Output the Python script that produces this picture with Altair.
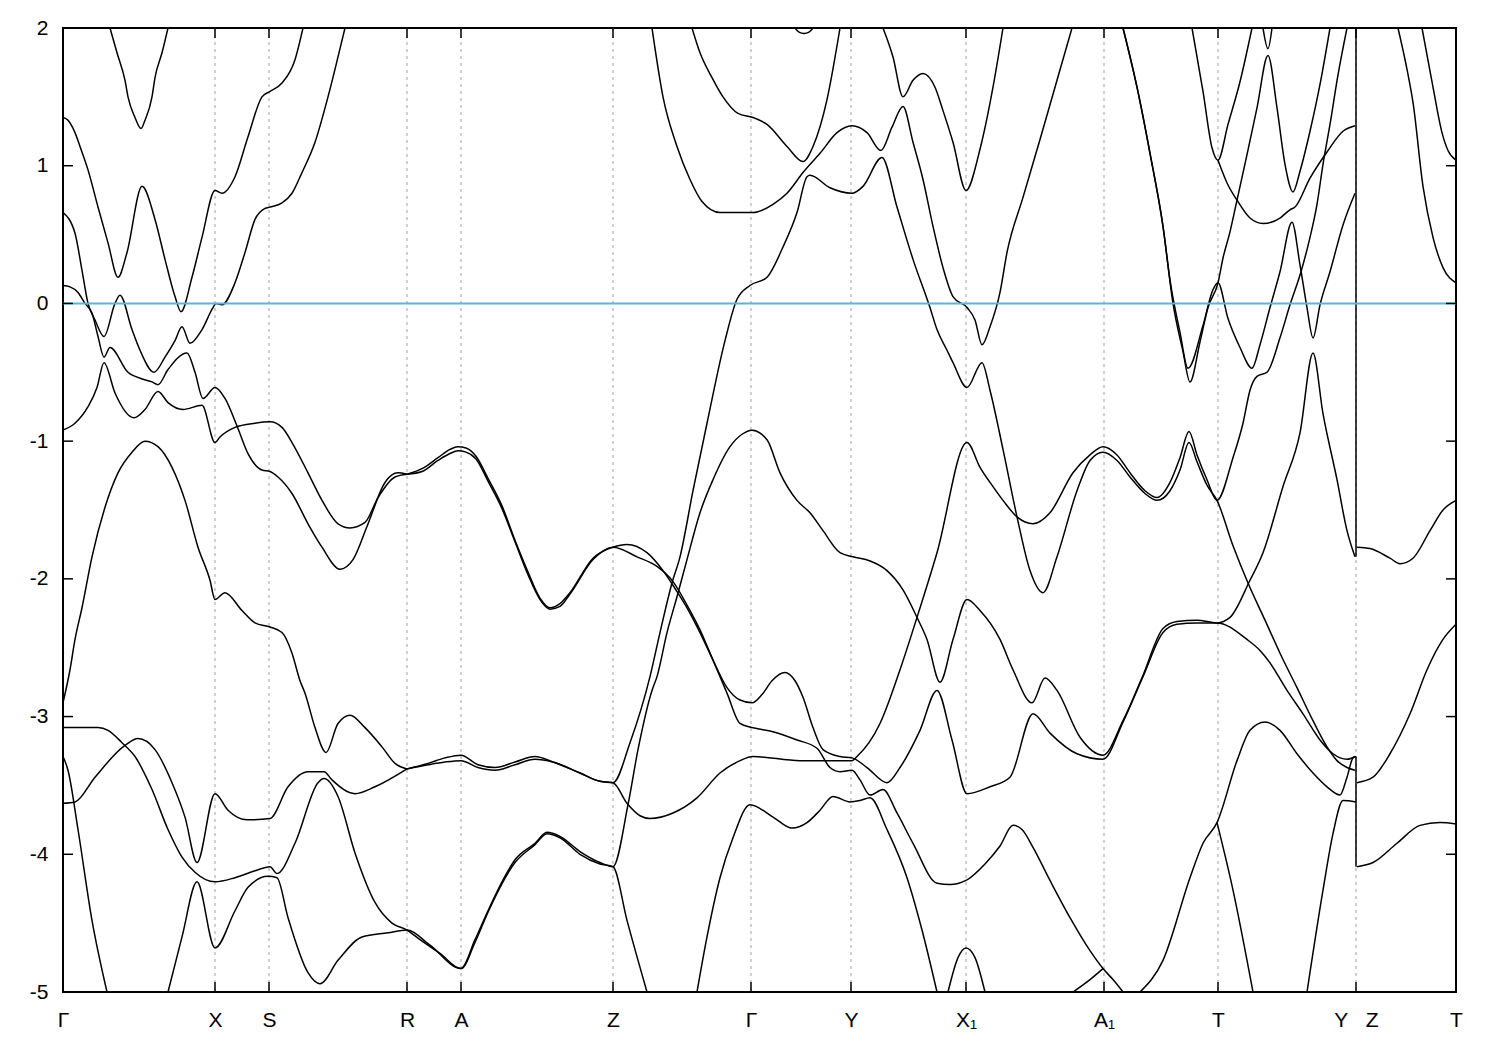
import altair as alt
import pandas as pd

# ---------------- high-symmetry path (k in path units) ----------------
tick_k = [0, 152, 206, 344, 398, 550, 688, 788, 903, 1041, 1155, 1293, 1393]
tick_labels = ["Γ", "X", "S", "R", "A", "Z", "Γ", "Y", "X₁", "A₁", "T", "Y\u00a0\u00a0\u00a0Z", "T"]
energy_ticks = [2, 1, 0, -1, -2, -3, -4, -5]
fermi_level = [0.0]

# ---------------- bands: [k, E(eV)] ----------------
c1 = [[47, 2.0], [54, 1.82], [62, 1.62], [65, 1.50], [72, 1.35], [78, 1.27], [82, 1.33], [89, 1.50], [92, 1.64], [99, 1.82], [105, 2.0]]
c2 = [[0, 1.35], [5, 1.33], [12, 1.24], [17, 1.14], [25, 0.97], [35, 0.70], [45, 0.44], [55, 0.19], [64, 0.37], [79, 0.85], [92, 0.61], [102, 0.32], [112, 0.05], [118, -0.06], [129, 0.19], [139, 0.48], [152, 0.82], [159, 0.80], [172, 0.92], [185, 1.21], [199, 1.50], [207, 1.54], [219, 1.60], [232, 1.77], [240, 2.0]]
c3 = [[0, 0.66], [12, 0.51], [19, 0.24], [25, 0.0], [32, -0.12], [41, -0.24], [52, 0.0], [57, 0.06], [69, -0.19], [77, -0.34], [91, -0.50], [102, -0.39], [112, -0.27], [119, -0.17], [127, -0.29], [139, -0.19], [150, -0.03], [153, 0.0], [159, -0.01], [172, 0.15], [182, 0.37], [192, 0.61], [202, 0.69], [207, 0.70], [219, 0.73], [229, 0.80], [239, 0.95], [252, 1.17], [265, 1.50], [275, 1.79], [282, 2.0]]
c4 = [[0, 0.13], [7, 0.12], [15, 0.08], [22, 0.0], [29, -0.07], [35, -0.24], [41, -0.39], [47, -0.32], [65, -0.50], [80, -0.55], [89, -0.57], [95, -0.59], [105, -0.48], [124, -0.36], [132, -0.50], [140, -0.69], [152, -0.61], [162, -0.69], [174, -0.89], [185, -1.09], [199, -1.21], [207, -1.22], [215, -1.26], [229, -1.38], [245, -1.60], [259, -1.77], [277, -1.93], [290, -1.86], [304, -1.62], [322, -1.30], [335, -1.23], [344, -1.24]]
c5 = [[0, -0.92], [12, -0.87], [25, -0.75], [34, -0.61], [41, -0.43], [52, -0.65], [71, -0.83], [82, -0.77], [95, -0.64], [105, -0.72], [120, -0.77], [139, -0.74], [152, -1.01], [157, -0.97], [172, -0.90], [192, -0.87], [207, -0.86], [219, -0.90], [229, -1.01], [245, -1.23], [259, -1.43], [275, -1.60], [287, -1.63], [302, -1.59], [315, -1.41], [332, -1.26], [344, -1.24]]
c6a = [[344, -1.24], [359, -1.20], [375, -1.12], [387, -1.06], [395, -1.04], [403, -1.05], [413, -1.11], [425, -1.27], [439, -1.47], [452, -1.72], [465, -1.95], [477, -2.14], [487, -2.21], [497, -2.18], [507, -2.10], [530, -1.85], [550, -1.77], [564, -1.75], [584, -1.81], [600, -1.94], [612, -2.07], [624, -2.21], [637, -2.39], [650, -2.59], [664, -2.79], [677, -2.88], [689, -2.90], [699, -2.84], [709, -2.74], [722, -2.68], [732, -2.74], [740, -2.86], [750, -3.08], [760, -3.24], [777, -3.29], [789, -3.30], [804, -3.37], [824, -3.48], [837, -3.37], [857, -3.10], [874, -2.81], [889, -3.17], [904, -3.56], [927, -3.51], [947, -3.44], [970, -2.98], [987, -3.12], [1014, -3.27], [1040, -3.31], [1060, -3.04], [1080, -2.71], [1100, -2.39], [1114, -2.33], [1134, -2.32], [1154, -2.32], [1184, -2.44], [1197, -2.52], [1207, -2.61], [1224, -2.81], [1240, -2.98], [1257, -3.17], [1270, -3.27], [1284, -3.31], [1292, -3.29]]
c6b = [[344, -1.24], [359, -1.22], [375, -1.14], [387, -1.09], [395, -1.07], [403, -1.08], [413, -1.13], [425, -1.29], [439, -1.49], [452, -1.73], [465, -1.97], [477, -2.15], [487, -2.22], [497, -2.20], [507, -2.11], [530, -1.86], [550, -1.77], [574, -1.84], [594, -1.91], [610, -2.02], [624, -2.19], [637, -2.37], [650, -2.59], [664, -2.83], [677, -3.05], [689, -3.08], [710, -3.11], [734, -3.17], [754, -3.23], [767, -3.37], [777, -3.40], [789, -3.39], [797, -3.46], [807, -3.57], [820, -3.53], [834, -3.70], [850, -3.92], [874, -4.21], [887, -4.22], [903, -4.19], [922, -4.07], [937, -3.94], [950, -3.79], [959, -3.82], [970, -3.95], [987, -4.19], [1007, -4.46], [1027, -4.70], [1040, -4.83], [1050, -4.91], [1060, -5.0]]
c7 = [[0, -2.90], [7, -2.66], [12, -2.44], [19, -2.21], [29, -1.84], [42, -1.48], [55, -1.23], [69, -1.08], [82, -1.00], [95, -1.04], [109, -1.19], [122, -1.43], [135, -1.77], [147, -2.01], [152, -2.15], [162, -2.10], [179, -2.23], [192, -2.32], [207, -2.35], [219, -2.39], [229, -2.54], [237, -2.74], [242, -2.83], [252, -3.08], [263, -3.26], [275, -3.05], [287, -2.99], [302, -3.08], [319, -3.22], [332, -3.34], [344, -3.38]]
c8a = [[344, -3.38], [365, -3.34], [382, -3.30], [398, -3.28], [415, -3.35], [432, -3.37], [452, -3.33], [472, -3.29], [490, -3.33], [517, -3.41], [537, -3.47], [550, -3.48], [567, -3.19], [587, -2.71], [597, -2.39], [609, -2.03], [617, -1.84], [630, -1.36], [644, -0.87], [662, -0.27], [674, 0.03], [687, 0.13], [704, 0.19], [720, 0.41], [734, 0.66], [744, 0.92], [747, 0.93], [767, 0.84], [789, 0.80], [800, 0.85], [819, 1.06], [834, 0.70], [850, 0.32], [867, -0.03], [874, -0.19], [884, -0.34], [890, -0.43], [904, -0.61], [919, -0.43], [927, -0.63], [940, -1.06], [954, -1.55], [967, -1.94], [980, -2.10], [994, -1.84], [1014, -1.36], [1027, -1.14], [1040, -1.08], [1054, -1.14], [1067, -1.26], [1082, -1.38], [1094, -1.43], [1107, -1.36], [1117, -1.21], [1126, -1.01], [1134, -1.15], [1144, -1.32], [1154, -1.43], [1170, -1.76], [1185, -2.03], [1202, -2.30], [1217, -2.54], [1234, -2.79], [1250, -3.03], [1264, -3.22], [1274, -3.32], [1284, -3.37], [1292, -3.39]]
c8b = [[344, -3.38], [365, -3.35], [382, -3.33], [398, -3.32], [415, -3.37], [432, -3.39], [452, -3.35], [472, -3.31], [490, -3.33], [517, -3.41], [537, -3.47], [550, -3.48], [564, -3.63], [577, -3.72], [587, -3.74], [610, -3.70], [634, -3.59], [657, -3.41], [677, -3.32], [690, -3.29], [737, -3.32], [789, -3.32], [794, -3.29], [817, -3.05], [837, -2.66], [854, -2.28], [874, -1.81], [904, -1.01], [917, -1.19], [930, -1.33], [940, -1.43], [954, -1.55], [970, -1.60], [987, -1.52], [1010, -1.23], [1027, -1.10], [1040, -1.04], [1054, -1.10], [1067, -1.23], [1082, -1.36], [1094, -1.41], [1107, -1.30], [1117, -1.12], [1126, -0.93], [1134, -1.10], [1144, -1.28], [1154, -1.43], [1170, -1.12], [1180, -0.87], [1187, -0.63], [1194, -0.53], [1204, -0.50], [1217, -0.25], [1227, -0.01], [1238, 0.23], [1247, 0.48], [1254, 0.72], [1260, 1.01], [1267, 1.30], [1275, 1.66], [1284, 2.0]]
d1 = [[0, -3.08], [35, -3.08], [45, -3.10], [59, -3.19], [72, -3.29], [89, -3.53], [105, -3.82], [119, -4.02], [132, -4.13], [152, -4.20], [172, -4.17], [192, -4.12], [207, -4.09], [214, -4.14], [232, -3.92], [255, -3.48], [261, -3.45], [275, -3.58], [292, -3.99], [312, -4.35], [329, -4.50], [344, -4.55], [357, -4.62], [377, -4.72], [398, -4.83], [412, -4.62], [425, -4.41], [439, -4.20], [452, -4.04], [472, -3.92], [484, -3.84], [497, -3.87], [517, -3.98], [537, -4.06], [550, -4.09], [565, -3.64], [575, -3.24], [589, -2.81], [594, -2.71], [604, -2.39], [614, -2.13], [624, -1.86], [637, -1.52], [650, -1.28], [667, -1.04], [679, -0.95], [689, -0.92], [704, -0.99], [717, -1.23], [734, -1.43], [747, -1.52], [760, -1.65], [777, -1.81], [790, -1.84], [807, -1.87], [824, -1.94], [840, -2.08], [854, -2.28], [864, -2.44], [877, -2.75], [890, -2.44], [904, -2.15], [917, -2.23], [937, -2.44], [950, -2.66], [969, -2.90], [982, -2.72], [994, -2.81], [1017, -3.15], [1040, -3.28], [1060, -3.03], [1080, -2.70], [1100, -2.36], [1114, -2.31], [1134, -2.30], [1154, -2.32], [1167, -2.28], [1187, -2.01], [1200, -1.81], [1220, -1.33], [1237, -0.94], [1250, -0.36], [1260, -0.80], [1274, -1.28], [1284, -1.65], [1292, -1.84]]
cx = [[0, -3.63], [12, -3.62], [32, -3.44], [62, -3.21], [75, -3.16], [92, -3.24], [109, -3.48], [122, -3.73], [134, -4.06], [152, -3.56], [165, -3.68], [184, -3.75], [207, -3.74], [225, -3.51], [245, -3.40], [261, -3.40], [269, -3.46], [292, -3.56], [312, -3.51], [344, -3.38]]
steep = [[0, -3.29], [5, -3.39], [15, -3.82], [29, -4.48], [44, -5.0]]
bottom_left = [[105, -5.0], [119, -4.60], [134, -4.20], [152, -4.68], [172, -4.41], [185, -4.24], [205, -4.16], [214, -4.17], [225, -4.46], [245, -4.86], [257, -4.94], [275, -4.77], [299, -4.60], [325, -4.57], [344, -4.55], [367, -4.66], [398, -4.83], [412, -4.64], [425, -4.42], [452, -4.06], [472, -3.93], [484, -3.85], [497, -3.88], [517, -4.00], [537, -4.07], [550, -4.09], [564, -4.48], [584, -5.0]]
gamma_bottom = [[634, -5.0], [644, -4.60], [657, -4.17], [670, -3.88], [687, -3.64], [710, -3.73], [729, -3.81], [744, -3.77], [757, -3.68], [770, -3.58], [787, -3.62], [797, -3.61], [807, -3.59], [824, -3.82], [844, -4.17], [859, -4.55], [874, -5.0]]
x1_dome = [[885, -5.0], [895, -4.75], [903, -4.68], [912, -4.75], [922, -5.0]]
a1_branch = [[1010, -5.0], [1027, -4.91], [1040, -4.83]]
t_bottom = [[1077, -5.0], [1100, -4.77], [1127, -4.17], [1140, -3.92], [1154, -3.77], [1174, -3.32], [1187, -3.10], [1202, -3.04], [1217, -3.10], [1234, -3.27], [1250, -3.41], [1264, -3.51], [1277, -3.57], [1284, -3.44], [1290, -3.30], [1293, -3.29]]
t_down = [[1154, -3.77], [1170, -4.26], [1190, -5.0]]
y_bottom = [[1244, -5.0], [1260, -4.26], [1270, -3.85], [1280, -3.61], [1293, -3.62]]
zt1 = [[1294, -1.77], [1307, -1.78], [1327, -1.85], [1337, -1.89], [1350, -1.85], [1367, -1.65], [1380, -1.50], [1393, -1.43]]
zt2 = [[1294, -3.48], [1310, -3.44], [1327, -3.27], [1347, -2.98], [1364, -2.66], [1380, -2.44], [1393, -2.33]]
zt3 = [[1294, -4.09], [1310, -4.06], [1334, -3.92], [1357, -3.79], [1377, -3.77], [1393, -3.78]]
zt4 = [[1335, 2.0], [1344, 1.70], [1350, 1.46], [1360, 0.85], [1370, 0.48], [1380, 0.26], [1393, 0.15]]
zt5 = [[1359, 2.0], [1370, 1.57], [1379, 1.24], [1385, 1.11], [1393, 1.04]]
e1 = [[589, 2.0], [600, 1.50], [614, 1.14], [627, 0.90], [639, 0.74], [657, 0.66], [690, 0.66], [710, 0.72], [724, 0.80], [740, 0.95], [757, 1.09], [774, 1.24], [789, 1.29], [804, 1.24], [818, 1.11], [829, 1.28], [840, 1.43], [850, 1.17], [860, 0.90], [870, 0.56], [880, 0.26], [890, 0.05], [904, -0.03], [912, -0.12], [919, -0.30], [927, -0.17], [937, 0.08], [944, 0.37], [960, 0.77], [977, 1.19], [994, 1.62], [1009, 2.0]]
e2 = [[629, 2.0], [637, 1.82], [649, 1.64], [660, 1.50], [675, 1.38], [690, 1.35], [704, 1.30], [724, 1.14], [740, 1.03], [750, 1.14], [764, 1.48], [777, 2.0]]
top_arc = [[732, 2.0], [736, 1.97], [741, 1.96], [746, 1.97], [750, 2.0]]
u1 = [[820, 2.0], [830, 1.79], [840, 1.50], [850, 1.62], [860, 1.67], [872, 1.57], [880, 1.40], [890, 1.17], [903, 0.82], [917, 1.12], [930, 1.57], [940, 2.0]]
t1 = [[1060, 2.0], [1074, 1.57], [1087, 1.09], [1100, 0.56], [1110, 0.0], [1120, -0.35], [1127, -0.57], [1137, -0.28], [1145, -0.03], [1155, 0.15], [1160, 0.33], [1167, 0.52], [1174, 0.75], [1184, 1.08], [1194, 1.42], [1205, 1.80], [1214, 1.42], [1222, 1.01], [1230, 0.81], [1237, 0.96], [1247, 1.25], [1257, 1.59], [1267, 2.0]]
t2 = [[1060, 2.0], [1074, 1.57], [1087, 1.09], [1100, 0.56], [1107, 0.17], [1117, -0.21], [1125, -0.47], [1140, -0.16], [1150, 0.10], [1155, 0.15], [1165, -0.11], [1177, -0.32], [1189, -0.47], [1197, -0.30], [1207, -0.03], [1217, 0.23], [1229, 0.59], [1237, 0.28], [1244, -0.03], [1250, -0.25], [1257, -0.01], [1267, 0.23], [1280, 0.57], [1292, 0.80]]
r5 = [[1129, 2.0], [1140, 1.54], [1149, 1.13], [1155, 1.04], [1165, 1.30], [1177, 1.61], [1189, 2.0]]
r1 = [[1155, 1.04], [1165, 0.86], [1174, 0.75], [1187, 0.62], [1200, 0.58], [1217, 0.62], [1227, 0.68], [1232, 0.70], [1247, 0.91], [1264, 1.10], [1280, 1.25], [1292, 1.29]]
small_v = [[1200, 2.0], [1205, 1.85], [1209, 2.0]]

# jumps drawn between the Y and Z end points
jump_k = [1293, 1293]
jump_top = [2.0, -3.29]
jump_bottom = [-1.84, -4.09]

bands = {
    "c1": c1, "c2": c2, "c3": c3, "c4": c4, "c5": c5, "c6a": c6a, "c6b": c6b,
    "c7": c7, "c8a": c8a, "c8b": c8b, "d1": d1, "cx": cx, "steep": steep,
    "bottom_left": bottom_left, "gamma_bottom": gamma_bottom, "x1_dome": x1_dome,
    "a1_branch": a1_branch, "t_bottom": t_bottom, "t_down": t_down, "y_bottom": y_bottom,
    "zt1": zt1, "zt2": zt2, "zt3": zt3, "zt4": zt4, "zt5": zt5, "e1": e1, "e2": e2,
    "top_arc": top_arc, "u1": u1, "t1": t1, "t2": t2, "r5": r5, "r1": r1, "small_v": small_v,
}

rows = []
for name, pts in bands.items():
    for i, (k, e) in enumerate(pts):
        rows.append({"band": name, "i": i, "k": k, "E": e})
bands_df = pd.DataFrame(rows)

K_MIN, K_MAX = tick_k[0], tick_k[-1]
E_MIN, E_MAX = min(energy_ticks), max(energy_ticks)
xscale = alt.Scale(domain=[K_MIN, K_MAX], nice=False, zero=False)
yscale = alt.Scale(domain=[E_MIN, E_MAX], nice=False, zero=False)

label_expr = "''"
for k, lab in reversed(list(zip(tick_k, tick_labels))):
    label_expr = f"datum.value == {k} ? '{lab}' : ({label_expr})"

FONT = "Liberation Sans"
x_axis = alt.Axis(values=tick_k, labelExpr=label_expr, ticks=False, tickSize=0, domain=False,
                  grid=False, title=None, labelFont=FONT, labelFontSize=21, labelPadding=17,
                  labelColor="black", labelFlush=False, labelOverlap=False, labelBound=False)
y_axis = alt.Axis(values=energy_ticks, labelExpr="'' + datum.value", ticks=False, tickSize=0,
                  domain=False, grid=False, title=None, labelFont=FONT, labelFontSize=21,
                  labelPadding=15, labelColor="black", labelFlush=False, labelOverlap=False)

def X(field="k"):
    return alt.X(f"{field}:Q", scale=xscale, axis=x_axis)

def Y(field="E"):
    return alt.Y(f"{field}:Q", scale=yscale, axis=y_axis)

# dotted vertical lines at inner high-symmetry points
grid_df = pd.DataFrame({"k": tick_k[1:-1]})
grid = alt.Chart(grid_df).mark_rule(color="#a0a0a0", strokeWidth=1, strokeDash=[3, 4]).encode(x=X())

# band lines
lines = alt.Chart(bands_df).mark_line(color="black", strokeWidth=1.5, interpolate="monotone", clip=True).encode(
    x=X(), y=Y(), detail="band:N", order="i:Q"
)

jumps_df = pd.DataFrame({"k": jump_k, "top": jump_top, "bottom": jump_bottom})
jumps = alt.Chart(jumps_df).mark_rule(color="black", strokeWidth=1.5).encode(
    x=X(), y=Y("top"), y2="bottom:Q"
)

fermi_df = pd.DataFrame({"E": fermi_level})
fermi = alt.Chart(fermi_df).mark_rule(color="#56b4e9", strokeWidth=2).encode(y=Y())

# inward tick marks (length ~10 px) on all four sides
tl_e = (E_MAX - E_MIN) * 10 / 964
tl_k = (K_MAX - K_MIN) * 10 / 1393
xt = []
for k in tick_k[1:-1]:
    xt.append({"k": k, "a": E_MIN, "b": E_MIN + tl_e})
    xt.append({"k": k, "a": E_MAX, "b": E_MAX - tl_e})
xticks = alt.Chart(pd.DataFrame(xt)).mark_rule(color="black", strokeWidth=1.5).encode(
    x=X(), y=Y("a"), y2="b:Q"
)
yt = []
for e in energy_ticks[1:-1]:
    yt.append({"E": e, "a": K_MIN, "b": K_MIN + tl_k})
    yt.append({"E": e, "a": K_MAX, "b": K_MAX - tl_k})
yticks = alt.Chart(pd.DataFrame(yt)).mark_rule(color="black", strokeWidth=1.5).encode(
    y=Y(), x=X("a"), x2="b:Q"
)

chart = alt.layer(grid, lines, jumps, fermi, xticks, yticks).properties(
    width=1393, height=964,
    padding={"left": 55, "top": 20, "right": 30, "bottom": 50},
    autosize=alt.AutoSizeParams(type="none"),
    background="white",
).configure_view(stroke="black", strokeWidth=2)

chart.save("out.html", embed_options={"renderer": "svg", "actions": False})
